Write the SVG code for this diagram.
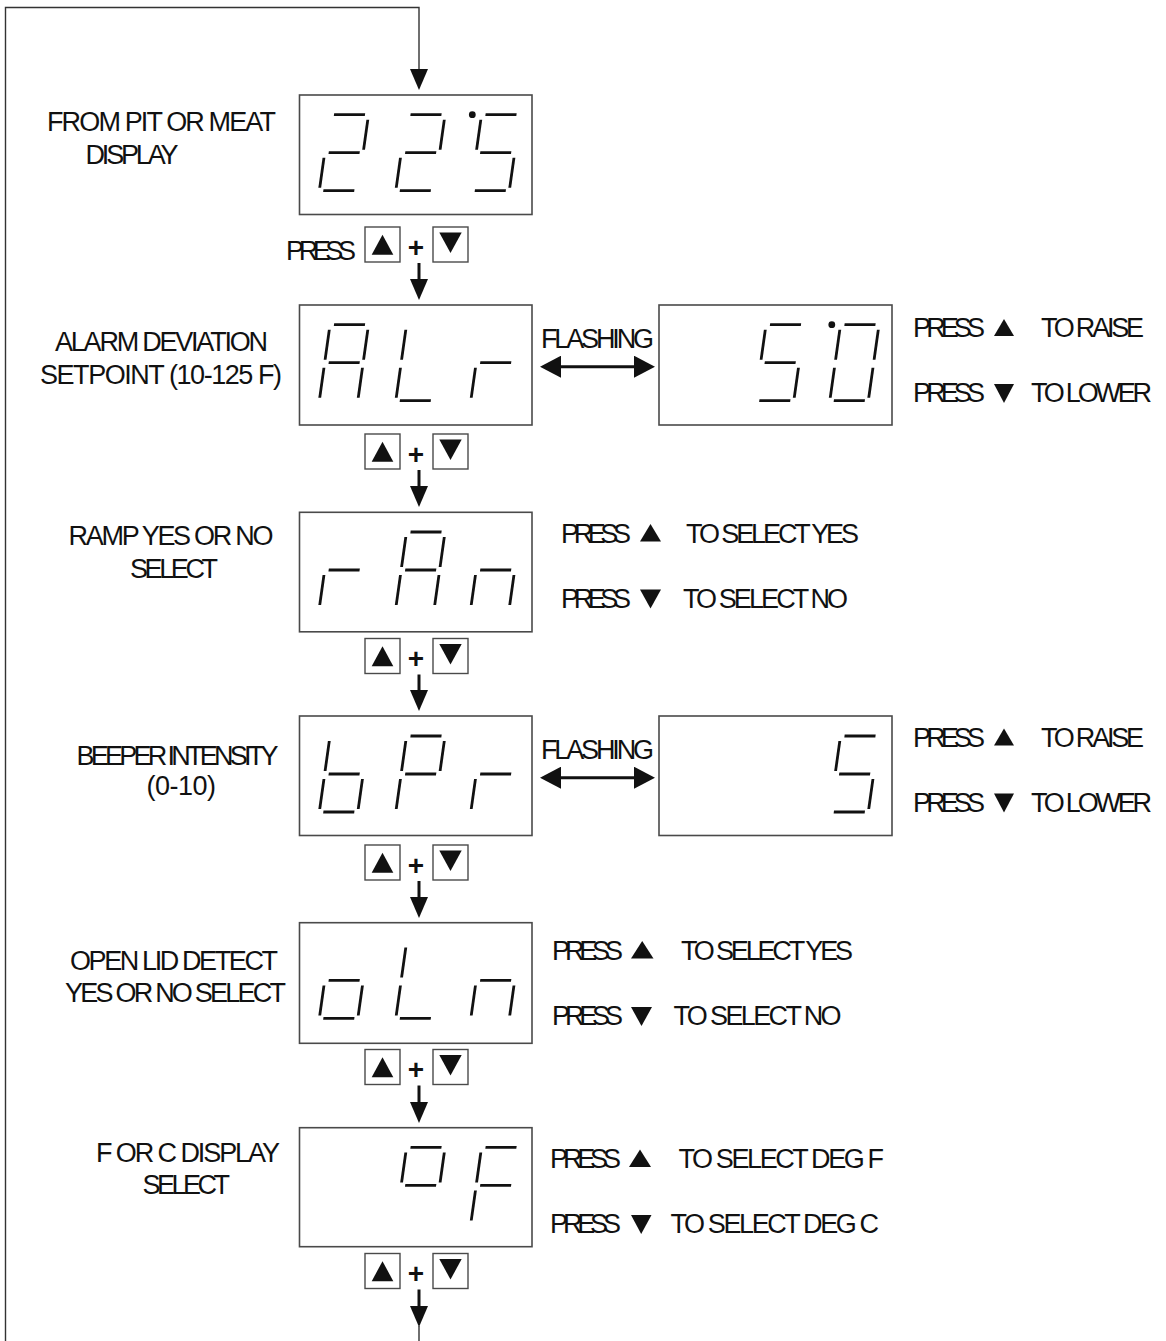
<svg xmlns="http://www.w3.org/2000/svg" xmlns:xlink="http://www.w3.org/1999/xlink" width="1166" height="1341" viewBox="0 0 1166 1341">
<style>
.bg{fill:#fff}
.box{fill:#fff;stroke:#4a4a4a;stroke-width:1.6}
.btn{fill:#fff;stroke:#4a4a4a;stroke-width:1.4}
.tri{fill:#111}
.dg{fill:none;stroke:#111;stroke-width:2.8;stroke-linecap:butt}
.dot{fill:#111}
.t{font-family:"Liberation Sans",Arial,sans-serif;font-size:27px;fill:#111}
.plus{font-family:"Liberation Sans",Arial,sans-serif;font-size:28px;font-weight:bold;fill:#111;text-anchor:middle}
.flow{fill:none;stroke:#111;stroke-width:3}
.loop{fill:none;stroke:#333;stroke-width:1.4}
</style>
<defs>
<path id="sa" d="M4 0H35"/>
<path id="sb" d="M38.5 5V35"/>
<path id="sc" d="M38.5 43V73"/>
<path id="sd" d="M4 76H35"/>
<path id="se" d="M0 43V73"/>
<path id="sf" d="M0 5V35"/>
<path id="sg" d="M4 38H35"/>
<marker id="ah" markerUnits="userSpaceOnUse" viewBox="0 0 21 18" refX="0" refY="9" markerWidth="21" markerHeight="18" orient="auto"><path d="M0 0L21 9L0 18Z" fill="#111"/></marker>
<marker id="ah2" markerUnits="userSpaceOnUse" viewBox="0 0 21 22" refX="0" refY="11" markerWidth="21" markerHeight="22" orient="auto-start-reverse"><path d="M0 0L21 11L0 22Z" fill="#111"/></marker>
</defs>
<rect class="bg" x="0" y="0" width="1166" height="1341"/>

<g id="connectors">
<path class="loop" d="M5.5 1341V7.5H419V69" marker-end="url(#ah)"/>
<path class="flow" d="M419 263V279" marker-end="url(#ah)"/>
<path class="flow" d="M419 470V486" marker-end="url(#ah)"/>
<path class="flow" d="M419 674.5V690" marker-end="url(#ah)"/>
<path class="flow" d="M419 881V897" marker-end="url(#ah)"/>
<path class="flow" d="M419 1085.5V1102" marker-end="url(#ah)"/>
<path class="flow" d="M419 1289.5V1306" marker-end="url(#ah)"/>
<path class="loop" d="M419 1326V1341"/>
<path class="flow" d="M561 366.7H634" marker-start="url(#ah2)" marker-end="url(#ah2)"/>
<path class="flow" d="M561 777.7H634" marker-start="url(#ah2)" marker-end="url(#ah2)"/>
<text class="t" x="541" y="347.5" textLength="113" lengthAdjust="spacing">FLASHING</text>
<text class="t" x="541" y="758.5" textLength="113" lengthAdjust="spacing">FLASHING</text>
<text class="t" x="286" y="260" textLength="70" lengthAdjust="spacing">PRESS</text>
<g id="btn1">
<rect class="btn" x="365" y="227" width="35" height="35"/><path class="tri" d="M371.7 254.7H393.3L382.5 234.7Z"/>
<text class="plus" x="416" y="256.5">+</text>
<rect class="btn" x="433" y="227" width="35" height="35"/><path class="tri" d="M439.3 232.5H461.7L450.5 253Z"/>
</g>
<g id="btn2">
<rect class="btn" x="365" y="434" width="35" height="35"/><path class="tri" d="M371.7 461.7H393.3L382.5 441.7Z"/>
<text class="plus" x="416" y="463.5">+</text>
<rect class="btn" x="433" y="434" width="35" height="35"/><path class="tri" d="M439.3 439.5H461.7L450.5 460Z"/>
</g>
<g id="btn3">
<rect class="btn" x="365" y="638.5" width="35" height="35"/><path class="tri" d="M371.7 666.2H393.3L382.5 646.2Z"/>
<text class="plus" x="416" y="668">+</text>
<rect class="btn" x="433" y="638.5" width="35" height="35"/><path class="tri" d="M439.3 644H461.7L450.5 664.5Z"/>
</g>
<g id="btn4">
<rect class="btn" x="365" y="845" width="35" height="35"/><path class="tri" d="M371.7 872.7H393.3L382.5 852.7Z"/>
<text class="plus" x="416" y="874.5">+</text>
<rect class="btn" x="433" y="845" width="35" height="35"/><path class="tri" d="M439.3 850.5H461.7L450.5 871Z"/>
</g>
<g id="btn5">
<rect class="btn" x="365" y="1049.5" width="35" height="35"/><path class="tri" d="M371.7 1077.2H393.3L382.5 1057.2Z"/>
<text class="plus" x="416" y="1079">+</text>
<rect class="btn" x="433" y="1049.5" width="35" height="35"/><path class="tri" d="M439.3 1055H461.7L450.5 1075.5Z"/>
</g>
<g id="btn6">
<rect class="btn" x="365" y="1253.5" width="35" height="35"/><path class="tri" d="M371.7 1281.2H393.3L382.5 1261.2Z"/>
<text class="plus" x="416" y="1283">+</text>
<rect class="btn" x="433" y="1253.5" width="35" height="35"/><path class="tri" d="M439.3 1259H461.7L450.5 1279.5Z"/>
</g>
</g>

<g id="node-pit">
<rect class="box" x="299.5" y="95" width="232.5" height="119.5"/>
<g class="dg" transform="translate(330 114.7) skewX(-8)"><use xlink:href="#sa"/><use xlink:href="#sb"/><use xlink:href="#sg"/><use xlink:href="#se"/><use xlink:href="#sd"/></g>
<g class="dg" transform="translate(406.5 114.7) skewX(-8)"><use xlink:href="#sa"/><use xlink:href="#sb"/><use xlink:href="#sg"/><use xlink:href="#se"/><use xlink:href="#sd"/></g>
<g class="dg" transform="translate(481.5 114.7) skewX(-8)"><use xlink:href="#sa"/><use xlink:href="#sf"/><use xlink:href="#sg"/><use xlink:href="#sc"/><use xlink:href="#sd"/></g>
<circle class="dot" cx="472.3" cy="114.7" r="3.4"/>
<text class="t" x="47" y="131" textLength="229" lengthAdjust="spacing">FROM PIT OR MEAT</text>
<text class="t" x="85.5" y="164" textLength="93" lengthAdjust="spacing">DISPLAY</text>
</g>

<g id="node-alr">
<rect class="box" x="299.5" y="305" width="232.5" height="120"/>
<g class="dg" transform="translate(330 324.7) skewX(-8)"><use xlink:href="#sa"/><use xlink:href="#sb"/><use xlink:href="#sc"/><use xlink:href="#se"/><use xlink:href="#sf"/><use xlink:href="#sg"/></g>
<g class="dg" transform="translate(406.5 324.7) skewX(-8)"><use xlink:href="#sf"/><use xlink:href="#se"/><use xlink:href="#sd"/></g>
<g class="dg" transform="translate(481.5 324.7) skewX(-8)"><use xlink:href="#sg"/><use xlink:href="#se"/></g>
<text class="t" x="55" y="351" textLength="213" lengthAdjust="spacing">ALARM DEVIATION</text>
<text class="t" x="40" y="383.5" textLength="242" lengthAdjust="spacing">SETPOINT (10-125 F)</text>
</g>

<g id="node-alr-value">
<rect class="box" x="659" y="305" width="233" height="120"/>
<g class="dg" transform="translate(766 324.7) skewX(-8)"><use xlink:href="#sa"/><use xlink:href="#sf"/><use xlink:href="#sg"/><use xlink:href="#sc"/><use xlink:href="#sd"/></g>
<g class="dg" transform="translate(840.5 324.7) skewX(-8)"><use xlink:href="#sa"/><use xlink:href="#sb"/><use xlink:href="#sc"/><use xlink:href="#sd"/><use xlink:href="#se"/><use xlink:href="#sf"/></g>
<circle class="dot" cx="831.8" cy="324.7" r="3.4"/>
<text class="t" x="913" y="337" textLength="72" lengthAdjust="spacing">PRESS</text>
<path class="tri" d="M994 336H1014L1004 319Z"/>
<text class="t" x="1041" y="337" textLength="103" lengthAdjust="spacing">TO RAISE</text>
<text class="t" x="913" y="402" textLength="72" lengthAdjust="spacing">PRESS</text>
<path class="tri" d="M994 384H1014L1004 403Z"/>
<text class="t" x="1031" y="402" textLength="121" lengthAdjust="spacing">TO LOWER</text>
</g>

<g id="node-ramp">
<rect class="box" x="299.5" y="512.3" width="232.5" height="119.5"/>
<g class="dg" transform="translate(330 532) skewX(-8)"><use xlink:href="#sg"/><use xlink:href="#se"/></g>
<g class="dg" transform="translate(406.5 532) skewX(-8)"><use xlink:href="#sa"/><use xlink:href="#sb"/><use xlink:href="#sc"/><use xlink:href="#se"/><use xlink:href="#sf"/><use xlink:href="#sg"/></g>
<g class="dg" transform="translate(481.5 532) skewX(-8)"><use xlink:href="#sg"/><use xlink:href="#se"/><use xlink:href="#sc"/></g>
<text class="t" x="68.5" y="544.5" textLength="205" lengthAdjust="spacing">RAMP YES OR NO</text>
<text class="t" x="130" y="577.5" textLength="88" lengthAdjust="spacing">SELECT</text>
<text class="t" x="561" y="542.5" textLength="70" lengthAdjust="spacing">PRESS</text>
<path class="tri" d="M640 541.5H661L650.5 524Z"/>
<text class="t" x="686" y="542.5" textLength="173" lengthAdjust="spacing">TO SELECT YES</text>
<text class="t" x="561" y="607.5" textLength="70" lengthAdjust="spacing">PRESS</text>
<path class="tri" d="M640 589.5H661L650.5 608.5Z"/>
<text class="t" x="683" y="607.5" textLength="165" lengthAdjust="spacing">TO SELECT NO</text>
</g>

<g id="node-bpr">
<rect class="box" x="299.5" y="716" width="232.5" height="119.5"/>
<g class="dg" transform="translate(330 736) skewX(-8)"><use xlink:href="#sf"/><use xlink:href="#se"/><use xlink:href="#sd"/><use xlink:href="#sc"/><use xlink:href="#sg"/></g>
<g class="dg" transform="translate(406.5 736) skewX(-8)"><use xlink:href="#sa"/><use xlink:href="#sb"/><use xlink:href="#sf"/><use xlink:href="#sg"/><use xlink:href="#se"/></g>
<g class="dg" transform="translate(481.5 736) skewX(-8)"><use xlink:href="#sg"/><use xlink:href="#se"/></g>
<text class="t" x="76.5" y="765" textLength="202" lengthAdjust="spacing">BEEPER INTENSITY</text>
<text class="t" x="146.5" y="795" textLength="69.5" lengthAdjust="spacing">(0-10)</text>
</g>

<g id="node-bpr-value">
<rect class="box" x="659" y="716" width="233" height="119.5"/>
<g class="dg" transform="translate(840.5 736) skewX(-8)"><use xlink:href="#sa"/><use xlink:href="#sf"/><use xlink:href="#sg"/><use xlink:href="#sc"/><use xlink:href="#sd"/></g>
<text class="t" x="913" y="746.5" textLength="72" lengthAdjust="spacing">PRESS</text>
<path class="tri" d="M994 745.5H1014L1004 728.5Z"/>
<text class="t" x="1041" y="746.5" textLength="103" lengthAdjust="spacing">TO RAISE</text>
<text class="t" x="913" y="811.5" textLength="72" lengthAdjust="spacing">PRESS</text>
<path class="tri" d="M994 793.5H1014L1004 812.5Z"/>
<text class="t" x="1031" y="811.5" textLength="121" lengthAdjust="spacing">TO LOWER</text>
</g>

<g id="node-oln">
<rect class="box" x="299.5" y="922.7" width="232.5" height="120.6"/>
<g class="dg" transform="translate(330 942.4) skewX(-8)"><use xlink:href="#sg"/><use xlink:href="#sc"/><use xlink:href="#sd"/><use xlink:href="#se"/></g>
<g class="dg" transform="translate(406.5 942.4) skewX(-8)"><use xlink:href="#sf"/><use xlink:href="#se"/><use xlink:href="#sd"/></g>
<g class="dg" transform="translate(481.5 942.4) skewX(-8)"><use xlink:href="#sg"/><use xlink:href="#se"/><use xlink:href="#sc"/></g>
<text class="t" x="70" y="970" textLength="208" lengthAdjust="spacing">OPEN LID DETECT</text>
<text class="t" x="65" y="1001.5" textLength="221" lengthAdjust="spacing">YES OR NO SELECT</text>
<text class="t" x="552" y="959.5" textLength="71" lengthAdjust="spacing">PRESS</text>
<path class="tri" d="M631 958.5H653.5L642.2 941Z"/>
<text class="t" x="681" y="959.5" textLength="172" lengthAdjust="spacing">TO SELECT YES</text>
<text class="t" x="552" y="1025" textLength="71" lengthAdjust="spacing">PRESS</text>
<path class="tri" d="M631 1007H652L641.5 1026Z"/>
<text class="t" x="673.5" y="1025" textLength="168" lengthAdjust="spacing">TO SELECT NO</text>
</g>

<g id="node-units">
<rect class="box" x="299.5" y="1127.7" width="232.5" height="119"/>
<g class="dg" transform="translate(406.5 1147.4) skewX(-8)"><use xlink:href="#sa"/><use xlink:href="#sb"/><use xlink:href="#sf"/><use xlink:href="#sg"/></g>
<g class="dg" transform="translate(481.5 1147.4) skewX(-8)"><use xlink:href="#sa"/><use xlink:href="#sf"/><use xlink:href="#sg"/><use xlink:href="#se"/></g>
<text class="t" x="96" y="1161.5" textLength="184" lengthAdjust="spacing">F OR C DISPLAY</text>
<text class="t" x="142.5" y="1193.5" textLength="87.5" lengthAdjust="spacing">SELECT</text>
<text class="t" x="550" y="1168" textLength="71" lengthAdjust="spacing">PRESS</text>
<path class="tri" d="M629 1167H651L640 1149.5Z"/>
<text class="t" x="678.5" y="1168" textLength="205.5" lengthAdjust="spacing">TO SELECT DEG F</text>
<text class="t" x="550" y="1233" textLength="71" lengthAdjust="spacing">PRESS</text>
<path class="tri" d="M631 1215H651.5L641.2 1234Z"/>
<text class="t" x="670.5" y="1233" textLength="208.5" lengthAdjust="spacing">TO SELECT DEG C</text>
</g>
</svg>
